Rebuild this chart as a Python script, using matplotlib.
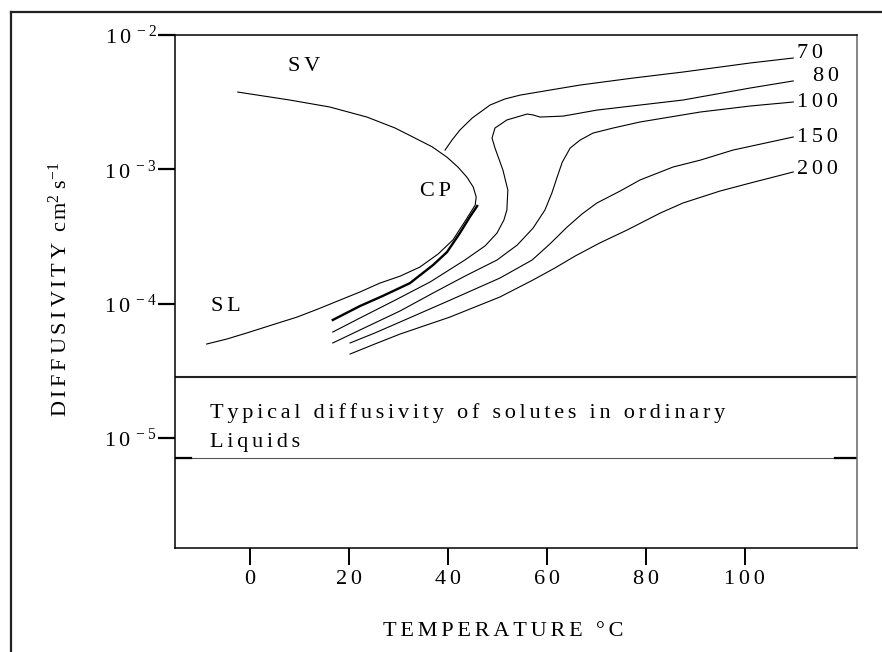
import numpy as np
import matplotlib
matplotlib.use('Agg')
import matplotlib.pyplot as plt
from matplotlib.lines import Line2D
from matplotlib.ticker import FixedLocator, FuncFormatter, NullLocator

plt.rcParams['font.family'] = ['Liberation Serif', 'DejaVu Serif']
plt.rcParams['mathtext.default'] = 'regular'
plt.rcParams['font.size'] = 16

# --- Daten: Temperatur [°C], Diffusivität [cm^2/s] ---
# Koexistenzkurve (Dampf-Ast SV -> CP -> Flüssig-Ast SL)
t_coex = [-2.5, 8.0, 16.1, 23.6, 29.3, 32.9, 36.8, 39.8, 42.0, 43.8, 45.1, 45.7,
          45.5, 43.6, 41.0, 38.0, 34.3, 30.3, 26.2, 22.2, 18.1, 13.7, 9.5, 4.4,
          -0.7, -4.7, -8.8]
d_coex = [3.76e-3, 3.28e-3, 2.91e-3, 2.45e-3, 2.03e-3, 1.74e-3, 1.47e-3, 1.23e-3,
          1.04e-3, 8.76e-4, 7.38e-4, 6.22e-4, 5.42e-4, 4.19e-4, 2.98e-4, 2.34e-4,
          1.87e-4, 1.60e-4, 1.42e-4, 1.22e-4, 1.06e-4, 9.11e-5, 7.94e-5, 6.93e-5,
          6.04e-5, 5.45e-5, 5.00e-5]

# kritische Isobare (dick)
t_crit = [16.7, 22.2, 26.8, 32.3, 37.0, 39.8, 42.4, 44.4, 45.9]
d_crit = [7.55e-5, 9.59e-5, 1.14e-4, 1.42e-4, 1.94e-4, 2.42e-4, 3.35e-4, 4.41e-4, 5.33e-4]

# Isobaren [bar]
p_labels = ['70', '80', '100', '150', '200']

t_70 = [39.4, 40.8, 42.4, 44.9, 48.5, 51.5, 54.6, 60.6, 66.7, 77.4, 87.5, 101.1, 109.8]
d_70 = [1.39e-3, 1.65e-3, 1.96e-3, 2.41e-3, 3.01e-3, 3.34e-3, 3.57e-3, 3.89e-3,
        4.24e-3, 4.78e-3, 5.30e-3, 6.19e-3, 6.74e-3]

t_80 = [16.7, 22.2, 29.3, 36.4, 43.4, 47.5, 49.9, 51.3, 51.9, 52.1, 51.1, 49.5,
        48.9, 49.5, 51.9, 56.0, 57.2, 58.6, 63.3, 70.1, 78.8, 87.5, 101.1, 109.8]
d_80 = [6.14e-5, 7.81e-5, 1.06e-4, 1.45e-4, 2.11e-4, 2.69e-4, 3.35e-4, 4.19e-4,
        4.98e-4, 7.01e-4, 9.88e-4, 1.44e-3, 1.71e-3, 2.03e-3, 2.33e-3, 2.58e-3,
        2.54e-3, 2.45e-3, 2.49e-3, 2.76e-3, 3.01e-3, 3.28e-3, 4.03e-3, 4.55e-3]

t_100 = [16.7, 22.2, 30.3, 37.0, 43.4, 49.9, 54.0, 57.2, 59.6, 61.0, 62.0, 63.1,
         64.7, 66.7, 69.3, 73.4, 78.8, 91.0, 101.1, 109.8]
d_100 = [5.09e-5, 6.36e-5, 8.81e-5, 1.20e-4, 1.60e-4, 2.11e-4, 2.73e-4, 3.65e-4,
         4.98e-4, 6.66e-4, 8.61e-4, 1.13e-3, 1.44e-3, 1.65e-3, 1.86e-3, 2.03e-3,
         2.25e-3, 2.67e-3, 2.96e-3, 3.17e-3]

t_150 = [20.2, 25.2, 30.3, 40.4, 50.5, 57.0, 60.6, 64.1, 67.1, 70.1, 74.8, 78.8,
         85.5, 91.0, 97.6, 109.8]
d_150 = [5.09e-5, 6.04e-5, 7.29e-5, 1.06e-4, 1.55e-4, 2.11e-4, 2.78e-4, 3.72e-4,
         4.65e-4, 5.61e-4, 6.89e-4, 8.32e-4, 1.04e-3, 1.17e-3, 1.39e-3, 1.74e-3]

t_200 = [20.2, 25.2, 30.3, 40.4, 50.5, 57.2, 61.6, 65.7, 70.7, 76.2, 82.9, 87.5,
         95.0, 101.1, 109.8]
d_200 = [4.21e-5, 5.00e-5, 5.93e-5, 7.94e-5, 1.12e-4, 1.50e-4, 1.84e-4, 2.26e-4,
         2.83e-4, 3.53e-4, 4.72e-4, 5.61e-4, 6.89e-4, 7.90e-4, 9.55e-4]

# Bereich typischer Diffusivität in gewöhnlichen Flüssigkeiten
band_upper = 2.84e-5
band_lower = 7.08e-6

x_ticks = [0, 20, 40, 60, 80, 100]
y_ticks = [1e-5, 1e-4, 1e-3, 1e-2]


def spaced(s):
    """Sperrsatz: zwei Haarspatien zwischen allen Zeichen."""
    return '\u200a\u200a'.join(s)


fig = plt.figure(figsize=(8.82, 6.52), dpi=100)
ax = fig.add_axes([0.1984, 0.1595, 0.7733, 0.7868])

ax.set_yscale('log')
ax.set_xlim(-15.2, 122.7)
ax.set_ylim(10 ** -5.82, 1e-2)

# Kurven
ax.plot(t_coex, d_coex, color='black', lw=0.8)
ax.plot(t_crit, d_crit, color='black', lw=1.7)
isobars = [(t_70, d_70), (t_80, d_80), (t_100, d_100), (t_150, d_150), (t_200, d_200)]
label_offsets = [(3, 3.5), (14.5, 3), (3, 0), (3, 0), (3, 1.5)]
for (t, d), lab, off in zip(isobars, p_labels, label_offsets):
    ax.plot(t, d, color='black', lw=0.8)
    ax.annotate(spaced(lab), xy=(t[-1], d[-1]), xytext=off,
                textcoords='offset points', ha='left', va='center')

# Band
ax.axhline(band_upper, color='#222222', lw=1.5)
ax.axhline(band_lower, color='#555555', lw=0.8)
yt = ax.get_yaxis_transform()
ax.plot([0, 0.0235], [band_lower, band_lower], color='black', lw=1.6, transform=yt)
ax.plot([0.968, 1.0], [band_lower, band_lower], color='black', lw=1.6, transform=yt)
ax.text(-8.2, 1.41e-5, spaced('Typical diffusivity of solutes in ordinary'))
ax.text(-8.2, 8.55e-6, spaced('Liquids'))

# Bereichsbeschriftungen
ax.text(10.9, 5.78e-3, spaced('SV'), ha='center', va='center')
ax.text(-4.9, 9.59e-5, spaced('SL'), ha='center', va='center')
ax.text(37.4, 6.89e-4, spaced('CP'), ha='center', va='center')

# Achsen
ax.xaxis.set_major_locator(FixedLocator(x_ticks))
ax.xaxis.set_major_formatter(FuncFormatter(lambda v, pos: spaced(f'{v:g}')))
ax.yaxis.set_major_locator(FixedLocator(y_ticks))
ax.yaxis.set_minor_locator(NullLocator())
ax.yaxis.set_major_formatter(
    FuncFormatter(lambda v, pos: r'$1\,0^{\,%d}$' % round(np.log10(v))))
ax.tick_params(axis='x', direction='out', length=12, width=1.4, pad=4, labelsize=16)
ax.tick_params(axis='y', direction='out', length=12, width=1.6, pad=1, labelsize=16)

for side in ['left', 'top', 'bottom']:
    ax.spines[side].set_linewidth(1.1)
ax.spines['right'].set_linewidth(1.1)
ax.spines['right'].set_color('#666666')

ax.set_xlabel(spaced('TEMPERATURE °C'))
ax.xaxis.set_label_coords(0.482, -0.144)
ax.set_ylabel(spaced('DIFFUSIVITY') + '  c\u200am$^2$ s$^{-1}$')
ax.yaxis.set_label_coords(-0.151, 0.505)

# Rahmen um die Abbildung
fig.add_artist(Line2D([0.0125, 1.0], [0.9816, 0.9816], color='#222222', lw=1.6))
fig.add_artist(Line2D([0.0125, 0.0125], [0.0, 0.9816], color='#222222', lw=1.6))

fig.savefig('out.png', dpi=100)
